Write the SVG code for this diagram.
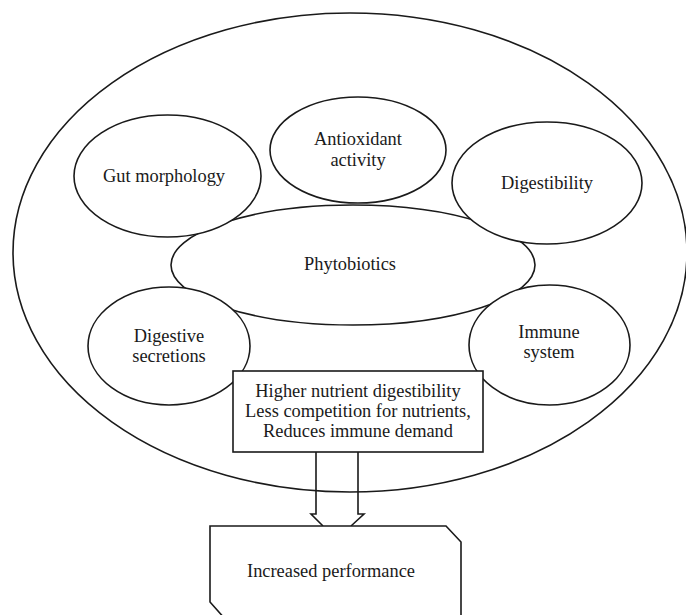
<svg xmlns="http://www.w3.org/2000/svg" width="686" height="615" viewBox="0 0 686 615">
<style>
.s{fill:#ffffff;stroke:#1a1a1a;stroke-width:1.6}
.o{fill:none;stroke:#1a1a1a;stroke-width:1.6}
text{font-family:"Liberation Serif","Times New Roman",serif;font-size:18.4px;fill:#1a1a1a;text-anchor:middle}
</style>
<rect width="686" height="615" fill="#ffffff"/>
<g id="outer"><ellipse class="s" cx="350" cy="252.5" rx="337" ry="239.5"/></g>
<g id="phytobiotics"><ellipse class="s" cx="353" cy="265" rx="182" ry="60"/><text x="350" y="270">Phytobiotics</text></g>
<g id="gut"><ellipse class="s" cx="167.5" cy="176" rx="93.5" ry="61"/><text x="164" y="182">Gut morphology</text></g>
<g id="antioxidant"><ellipse class="s" cx="358" cy="150" rx="88" ry="53"/><text x="358" y="145">Antioxidant</text><text x="358" y="166">activity</text></g>
<g id="digestibility"><ellipse class="s" cx="547" cy="183" rx="95" ry="61"/><text x="547" y="189">Digestibility</text></g>
<g id="secretions"><ellipse class="s" cx="169" cy="346" rx="81" ry="59"/><text x="169" y="342">Digestive</text><text x="169" y="362">secretions</text></g>
<g id="immune"><ellipse class="s" cx="549.5" cy="345" rx="80.5" ry="60"/><text x="549" y="338">Immune</text><text x="549" y="358">system</text></g>
<g id="benefits"><rect class="s" x="233" y="371" width="250" height="81"/><text x="358" y="397">Higher nutrient digestibility</text><text x="358" y="417">Less competition for nutrients,</text><text x="358" y="437">Reduces immune demand</text></g>
<g id="connectors"><path class="o" d="M316,452 L316,514 L311,514 L323,526 M358,452 L358,514 L364,514 L351,526"/></g>
<g id="performance"><path class="s" d="M226,620 L210,602 L210,526 L446,526 L461,542 L461,620"/><text x="331" y="577">Increased performance</text></g>
</svg>
